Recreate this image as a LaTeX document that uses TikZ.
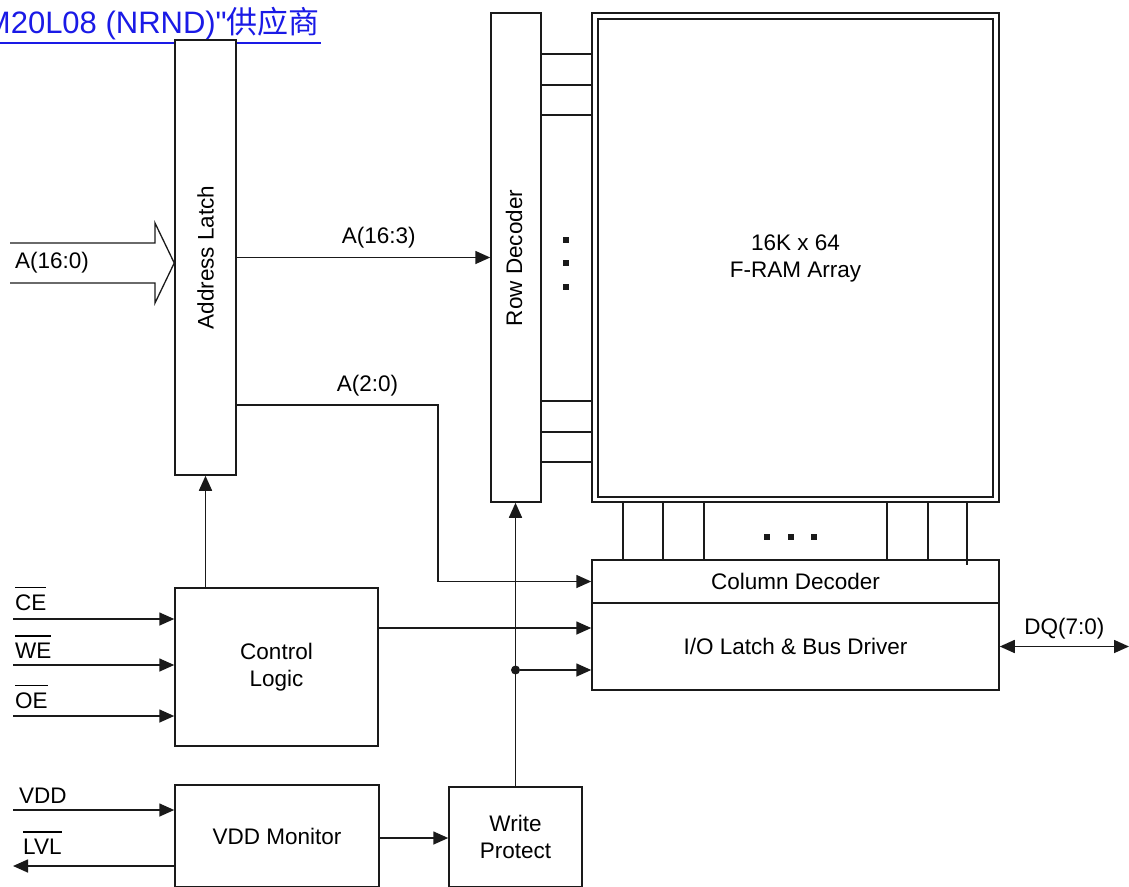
\documentclass[tikz,border=0pt]{standalone}
\usepackage{fontspec}
\setmainfont{Liberation Sans}
\newfontfamily\cabfont[Ligatures=TeXOff]{Liberation Sans}
\newfontfamily\cjk{Noto Sans CJK SC}
\usepackage{tikz}
\usetikzlibrary{arrows.meta,positioning,calc}
\definecolor{azulenlace}{HTML}{1A1AE6}
\definecolor{trazo}{HTML}{1A1A1A}
\newcommand{\letra}{\fontsize{22.5}{27}\selectfont}
\newcommand{\barra}[1]{\leavevmode\vbox{\hrule height 1.3pt\kern 6pt\hbox{#1}}}
\tikzset{
  bloque/.style={draw=trazo,line width=1.5pt,fill=white,align=center,font=\letra,inner sep=0pt},
  flecha/.style={-{Triangle[length=15pt,width=13pt]},line width=1.6pt,draw=trazo},
  flechados/.style={{Triangle[length=15pt,width=13pt]}-{Triangle[length=15pt,width=13pt]},line width=1.6pt,draw=trazo},
  linea/.style={line width=1.5pt,draw=trazo},
  etiqueta/.style={font=\letra,inner sep=0pt},
  punto/.style={fill=trazo,minimum size=6.5pt,inner sep=0pt},
}

\begin{document}
\begin{tikzpicture}[x=1pt,y=-1pt]
  \useasboundingbox (0,0) rectangle (1129,886);
  % cabecera
  \node[anchor=base east,text=azulenlace,font=\cabfont\fontsize{31}{36}\selectfont,inner sep=0pt] (cabecera) at (320,33) {M20L08 (NRND)"{\cjk 供应商}};
  \draw[azulenlace,line width=2pt] (0,43) -- (321,43);
  % bloques
  \node[bloque,minimum width=61,minimum height=435] (latch) at (205.5,257.5) {};
  \node[etiqueta,rotate=90] (latchtxt) at (latch.center) {Address Latch};
  \node[bloque,minimum width=50,minimum height=489] (rowdec) at (516,257.5) {};
  \node[etiqueta,rotate=90] (rowdectxt) at (514,258) {Row Decoder};
  \node[bloque,minimum width=407,minimum height=489] (array) at (795.5,257.5) {};
  \node[bloque,minimum width=395,minimum height=478] (arrayin) at (795.5,258) {16K x 64\\F-RAM Array};
  \node[bloque,minimum width=407,minimum height=43] (coldec) at (795.5,581.5) {Column Decoder};
  \node[bloque,minimum width=407,minimum height=87] (io) at (795.5,646.5) {I/O Latch \& Bus Driver};
  \node[bloque,minimum width=203,minimum height=158] (ctrl) at (276.5,667) {Control\\Logic};
  \node[bloque,minimum width=204,minimum height=102] (vddmon) at (277,836) {VDD Monitor};
  \node[bloque,minimum width=133,minimum height=100] (wp) at (515.5,837) {Write\\Protect};
  % bus de direcciones
  \coordinate (bus1) at (10,243);
  \coordinate (bus2) at (10,283);
  \draw[line width=1.3pt,draw=trazo,line join=miter] (bus1) -- (155,243) -- (155,223) -- (latch.west |- 0,263) -- (155,303) -- (155,283) -- (bus2);
  \node[etiqueta] (busl) at (52,263) {A(16:0)};
  \draw[flecha] (latch.east) -- (rowdec.west) node[etiqueta,pos=0.56,above=9pt] (a163) {A(16:3)};
  \coordinate (codo) at (438,405);
  \draw[flecha] (latch.east |- codo) -- node[etiqueta,pos=0.65,above=8pt] (a20) {A(2:0)} (codo) -- (codo |- coldec.west) -- (coldec.west);
  % filas y columnas
  \foreach \y in {54,85,115,401,432,462}
    \draw[linea] (rowdec.east |- 0,\y) -- (array.west |- 0,\y);
  \foreach \x in {623,663,704,887,928}
    \draw[linea] (\x,0 |- array.south) -- (\x,0 |- coldec.north);
  \draw[linea] (967,0 |- array.south) -- (967,565);
  \foreach \y in {240,263,287}
    \node[punto] (pf\y) at (566,\y) {};
  \foreach \x in {767,791,814}
    \node[punto] (pc\x) at (\x,537) {};
  % control
  \draw[flecha] (ctrl.north -| latch.south) -- (latch.south);
  \coordinate (ctl) at (0,628);
  \draw[flecha] (ctrl.east |- ctl) -- (io.west |- ctl);
  \foreach \nombre/\y/\d in {CE/619/9, WE/665/7, OE/716/8}{
    \coordinate (in\nombre) at (13,\y);
    \draw[flecha] (in\nombre) -- (ctrl.west |- in\nombre);
    \node[etiqueta,anchor=base west] (l\nombre) at (15,\y-\d) {\barra{\nombre}};
  }
  % proteccion
  \draw[flecha] (wp.north) -- (wp.north |- rowdec.south);
  \node[punto,circle,minimum size=9pt] (nudo) at (515.5,670) {};
  \draw[flecha] (nudo) -- (io.west |- nudo);
  \coordinate (vin) at (13,810);
  \draw[flecha] (vin) -- (vddmon.west |- vin);
  \node[etiqueta,anchor=base west] (lvdd) at (19,803) {VDD};
  \coordinate (lvl) at (13,866);
  \draw[flecha] (vddmon.west |- lvl) -- (lvl);
  \node[etiqueta,anchor=base west] (llvl) at (23,854) {\barra{LVL}};
  \coordinate (vwp) at (0,838);
  \draw[flecha] (vddmon.east |- vwp) -- (wp.west |- vwp);
  % datos
  \coordinate (dq) at (1129,646.5);
  \draw[flechados] (io.east) -- (dq) node[etiqueta,midway,above=7pt] (ldq) {DQ(7:0)};
\end{tikzpicture}
\end{document}
